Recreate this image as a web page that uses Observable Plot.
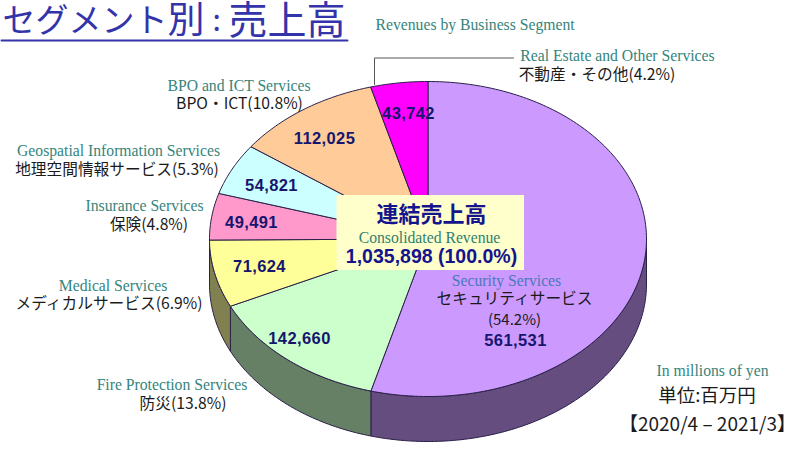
<!DOCTYPE html>
<html><head><meta charset="utf-8">
<script src="https://cdn.jsdelivr.net/npm/d3@7"></script>
<script src="https://cdn.jsdelivr.net/npm/@observablehq/plot@0.6"></script>
<style>
html,body{margin:0;padding:0;background:#fff;}
svg{display:block;}
</style></head><body><div id="chart"></div>
<script>
// ---- chart data ----
const segments = ["Security Services","Fire Protection Services","Medical Services","Insurance Services","Geospatial Information Services","BPO and ICT Services","Real Estate and Other Services"];
const revenues = [561531,142660,71624,49491,54821,112025,43742];
const japaneseNames = ["セキュリティサービス","防災(13.8%)","メディカルサービス(6.9%)","保険(4.8%)","地理空間情報サービス(5.3%)","BPO・ICT(10.8%)","不動産・その他(4.2%)"];
const revenueLabels = ["561,531","142,660","71,624","49,491","54,821","112,025","43,742"];
// ---- styling and layout, kept apart from the data ----
const faceColors = ["#cc99ff","#ccffcc","#ffff99","#ff99cc","#ccffff","#ffcc99","#ff00ff"];
const wallColors = ["#664d80","#668066","#808050","#804d66","#668080","#806650","#800080"];
const pie3d = {cx:427.5, cy:238.5, rx:218.5, ry:157.5, depth:45};
const englishAt = [[506,280],[171.5,384],[112.5,285],[144,205],[118,150],[238.5,85],[617,55]];
const japaneseAt = [[514,298],[182.5,403],[108.5,303],[148.5,224],[116.5,169],[239,103],[596.5,74]];
const valueAt = [[515,340],[299,338],[259,266],[251,222],[271,185],[324,138],[408,113]];

const teal = "#35857c", ink = "#1a1a1a", navy = "#16166e";
const jp = "'Noto Sans CJK JP'", serif = "'Liberation Serif'", sans = "'Liberation Sans'";

const arcs = d3.pie().sort(null).value(d => d)(revenues);
const deg = Math.PI / 180;
const px = a => pie3d.cx + pie3d.rx * Math.sin(a);
const py = a => pie3d.cy - pie3d.ry * Math.cos(a);
function sweep(a0, a1) {
  const n = Math.max(1, Math.ceil((a1 - a0) / deg)), out = [];
  for (let i = 0; i <= n; i++) out.push(a0 + (a1 - a0) * i / n);
  return out;
}
const faces = arcs.flatMap((s, i) => {
  const pts = [[pie3d.cx, pie3d.cy], ...sweep(s.startAngle, s.endAngle).map(a => [px(a), py(a)]), [pie3d.cx, pie3d.cy]];
  return pts.map(([x, y]) => ({x, y, k: segments[i]}));
});
const walls = arcs.flatMap((s, i) => {
  const a0 = Math.max(s.startAngle, Math.PI / 2), a1 = Math.min(s.endAngle, Math.PI * 1.5);
  if (a1 <= a0) return [];
  const as = sweep(a0, a1);
  const pts = [...as.map(a => [px(a), py(a)]), ...as.slice().reverse().map(a => [px(a), py(a) + pie3d.depth])];
  pts.push(pts[0]);
  return pts.map(([x, y]) => ({x, y, k: segments[i] + " wall"}));
});

const rows = segments.map((s, i) => ({en: s, ja: japaneseNames[i], val: revenueLabels[i], ea: englishAt[i], ja_at: japaneseAt[i], va: valueAt[i]}));
const leader = [{x:374,y:84},{x:374,y:57.5},{x:513,y:57.5}];

const text = (t, x, y, o) => Plot.text([t], {x: () => x, y: () => y, text: d => d, lineAnchor: "middle", ...o});

const plot = Plot.plot({
  width: 800, height: 449, margin: 0,
  style: {background: "#fff"},
  x: {domain: [0, 800], range: [0, 800], axis: null},
  y: {domain: [0, 449], range: [0, 449], axis: null},
  color: {domain: [...segments, ...segments.map(s => s + " wall")], range: [...faceColors, ...wallColors]},
  marks: [
    Plot.line(walls, {x: "x", y: "y", z: "k", fill: "k", stroke: "#2a2048", strokeWidth: 1}),
    Plot.line(faces, {x: "x", y: "y", z: "k", fill: "k", stroke: "#2a2048", strokeWidth: 1}),
    Plot.line(leader, {x: "x", y: "y", stroke: "#555", strokeWidth: 1}),
    Plot.rect([0], {x1: () => 336.5, x2: () => 524, y1: () => 195, y2: () => 270, fill: "#ffffcc"}),
    // title
    text("セグメント", 2, 21, {textAnchor: "start", fontFamily: jp, fontSize: 33, fill: "#3333aa"}),
    text("別", 167, 21, {textAnchor: "start", fontFamily: jp, fontSize: 37, fill: "#3333aa"}),
    text(":", 212, 21, {textAnchor: "start", fontFamily: jp, fontSize: 30, fill: "#3333aa"}),
    text("売上高", 228, 21, {textAnchor: "start", fontFamily: jp, fontSize: 39, fill: "#3333aa"}),
    Plot.line([{x:1,y:40},{x:347,y:40}], {x:"x", y:"y", stroke:"#3333aa", strokeWidth:2}),
    text("Revenues by Business Segment", 375, 24, {textAnchor: "start", fontFamily: serif, fontSize: 15.7, fill: teal}),
    // segment labels
    Plot.text(rows, {x: d => d.ea[0], y: d => d.ea[1], text: "en", lineAnchor: "middle", fontFamily: serif, fontSize: 15.7, fill: d => d.en === segments[0] ? "#4a78b8" : teal}),
    Plot.text(rows, {x: d => d.ja_at[0], y: d => d.ja_at[1], text: "ja", lineAnchor: "middle", fontFamily: jp, fontSize: 15.7, fill: ink}),
    text("(54.2%)", 514, 320, {fontFamily: jp, fontSize: 15, fill: ink}),
    Plot.text(rows, {x: d => d.va[0], y: d => d.va[1], text: "val", lineAnchor: "middle", fontFamily: sans, fontWeight: "bold", fontSize: 16.5, fill: navy}),
    // centre box
    text("連結売上高", 431, 214, {fontFamily: jp, fontWeight: "bold", fontSize: 22, fill: "#14148c"}),
    text("Consolidated Revenue", 429, 237, {fontFamily: serif, fontSize: 15.7, fill: "#2f8070"}),
    text("1,035,898 (100.0%)", 431, 256, {fontFamily: sans, fontWeight: "bold", fontSize: 19.5, fill: "#14148c"}),
    // notes
    text("In millions of yen", 712, 370, {fontFamily: serif, fontSize: 15.7, fill: teal}),
    text("単位:百万円", 706.5, 396, {fontFamily: jp, fontSize: 18.5, fill: ink}),
    text("【2020/4 – 2021/3】", 707, 424, {fontFamily: jp, fontSize: 19, fill: ink})
  ]
});
d3.select(plot).selectAll("text").filter(function () { return revenueLabels.includes(this.textContent); }).style("letter-spacing", "0.4px");
document.getElementById("chart").append(plot);
</script></body></html>
